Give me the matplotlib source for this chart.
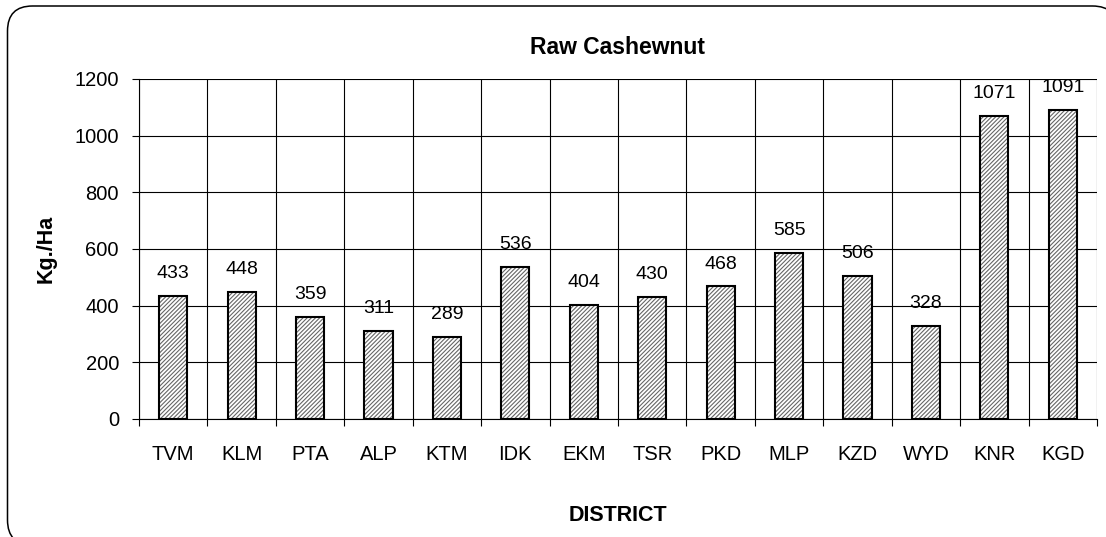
import matplotlib.pyplot as plt
from matplotlib.patches import FancyBboxPatch

plt.rcParams['font.family'] = ['Liberation Sans', 'DejaVu Sans']
plt.rcParams['hatch.linewidth'] = 0.8

# Yield of raw cashewnut per district
districts = ['TVM', 'KLM', 'PTA', 'ALP', 'KTM', 'IDK', 'EKM', 'TSR',
             'PKD', 'MLP', 'KZD', 'WYD', 'KNR', 'KGD']
yield_kg_ha = [433, 448, 359, 311, 289, 536, 404, 430, 468, 585, 506, 328, 1071, 1091]

fig = plt.figure(figsize=(11.06, 5.37), dpi=100)

# rounded chart frame (units in inches), runs off the right and bottom
frame = FancyBboxPatch((0.075, -0.08), 11.1, 5.39,
                       boxstyle='round,pad=0,rounding_size=0.25',
                       transform=fig.dpi_scale_trans, facecolor='white',
                       edgecolor='black', linewidth=1.1, zorder=-1)
fig.patches.append(frame)

ax = fig.add_axes([139 / 1106, 1 - 419 / 537, (1097 - 139) / 1106, (419 - 79) / 537])
ax.set_facecolor('none')

x = range(len(districts))
ax.bar(x, yield_kg_ha, width=0.41, color='white', edgecolor='#666666',
       hatch='////////', linewidth=0, zorder=2)
ax.bar(x, yield_kg_ha, width=0.41, color='none', edgecolor='black',
       linewidth=1.5, zorder=3)

for xi, v in zip(x, yield_kg_ha):
    ax.annotate(str(v), (xi, v), xytext=(0, 10), textcoords='offset points',
                ha='center', va='bottom', fontsize=14)

ax.set_xlim(-0.5, len(districts) - 0.5)
ax.set_ylim(0, 1200)
ax.set_yticks(range(0, 1201, 200))
ax.set_xticks(x)
ax.set_xticklabels(districts)
ax.set_xticks([i - 0.5 for i in range(len(districts) + 1)], minor=True)
ax.tick_params(axis='x', which='major', length=0, pad=18.5, labelsize=14.5)
ax.tick_params(axis='x', which='minor', length=5, width=0.8, direction='out')
ax.tick_params(axis='y', length=5, width=0.8, labelsize=14.5, pad=9.4)

ax.grid(axis='y', color='black', linewidth=0.8, zorder=1)
ax.grid(axis='x', which='minor', color='black', linewidth=0.8, zorder=1)
ax.set_axisbelow(True)

for side in ['top', 'right']:
    ax.spines[side].set_visible(False)
ax.spines['left'].set_linewidth(0.8)
ax.spines['bottom'].set_linewidth(0.8)

ax.set_title('Raw Cashewnut', fontsize=16.5, fontweight='bold', y=1.073, pad=0)
ax.set_ylabel('Kg./Ha', fontsize=15.5, fontweight='bold')
ax.set_xlabel('DISTRICT', fontsize=15.5, fontweight='bold')
ax.yaxis.set_label_coords(-0.086, 0.5)
ax.xaxis.set_label_coords(0.5, -0.253)

fig.savefig('out.png', dpi=100)
